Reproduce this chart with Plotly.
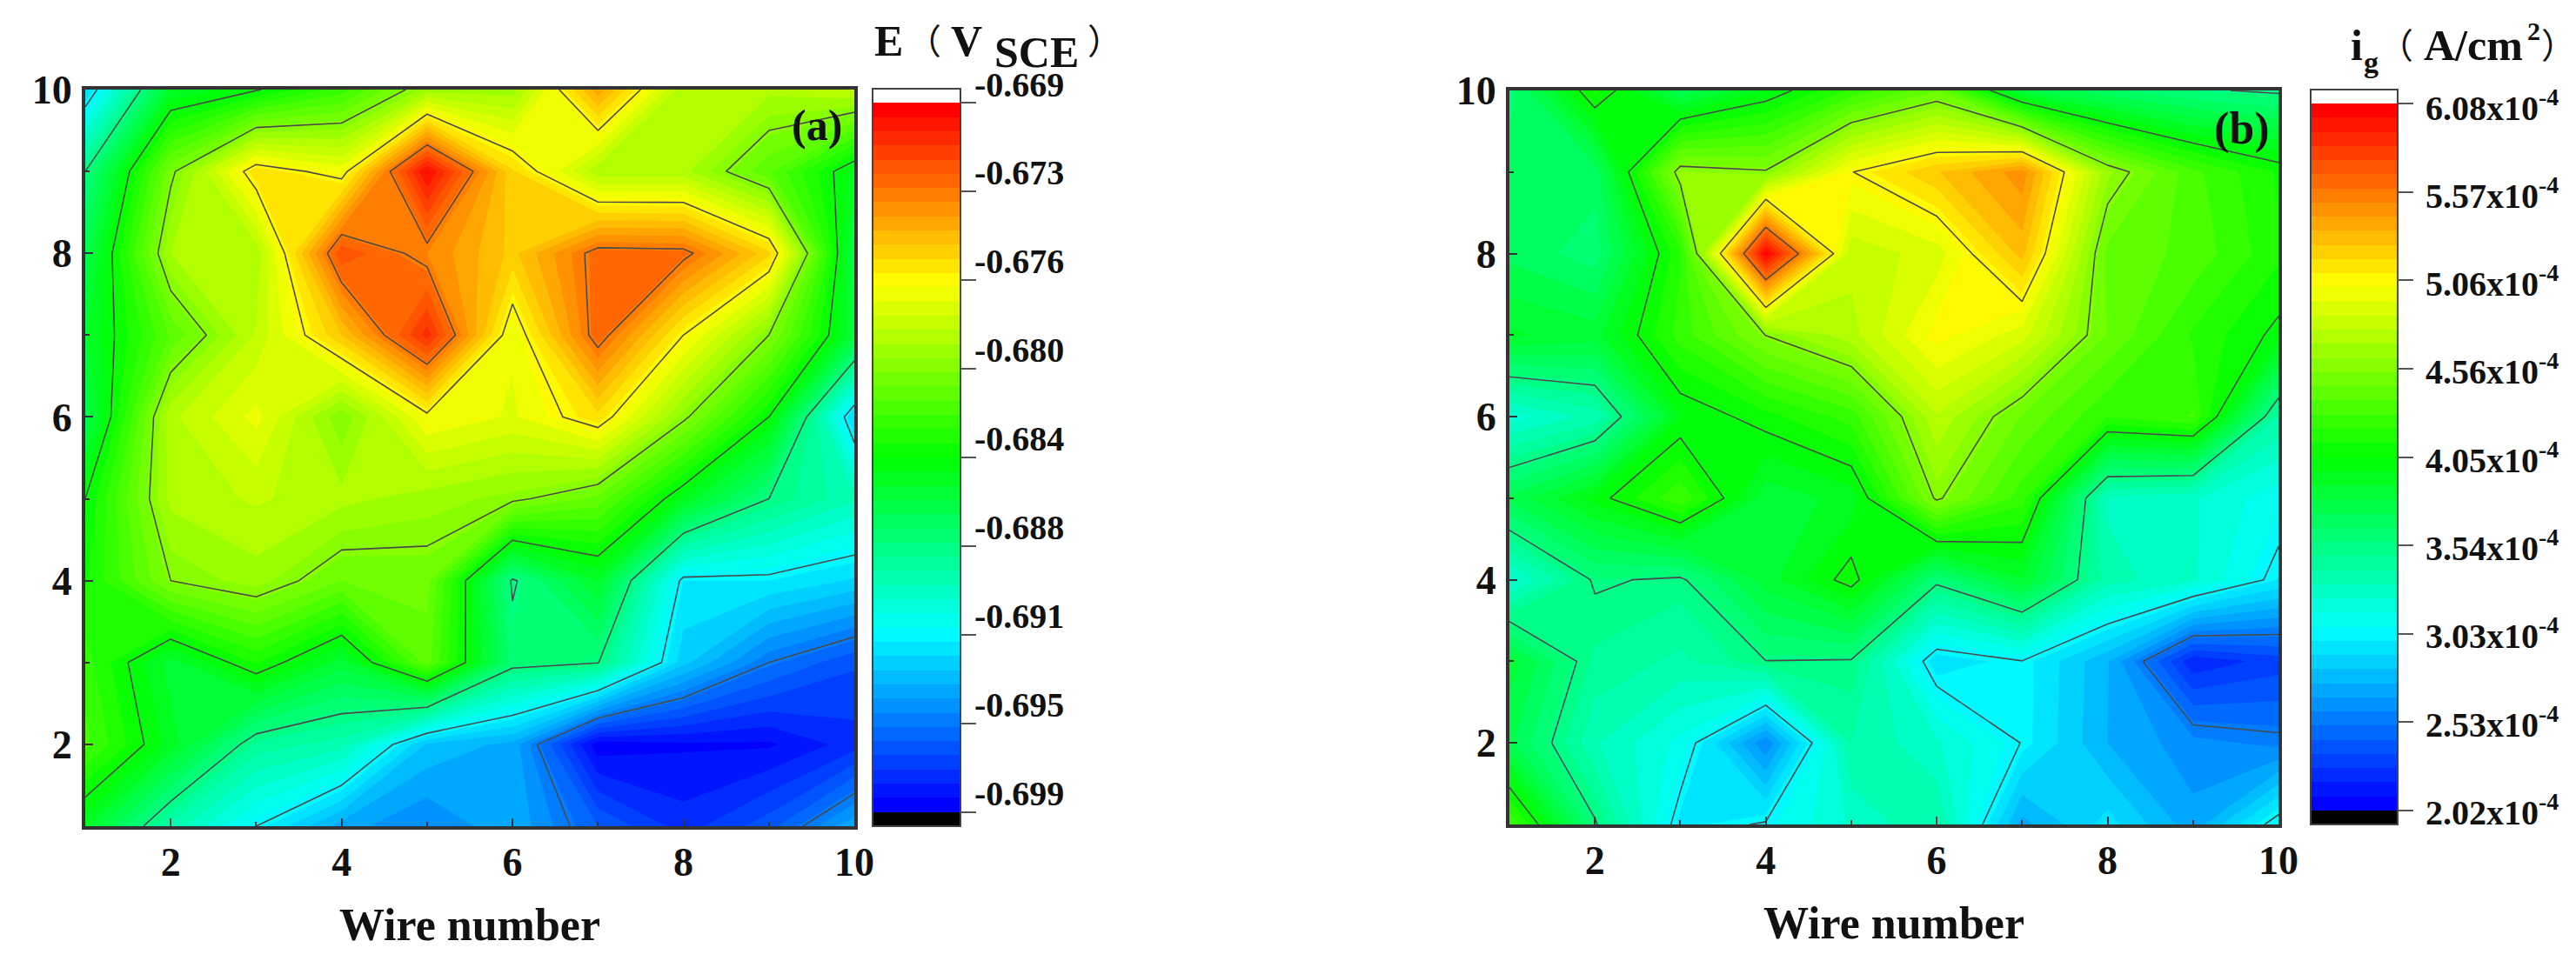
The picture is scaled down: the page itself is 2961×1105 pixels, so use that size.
import plotly.graph_objects as go

WIRES = [1, 2, 3, 4, 5, 6, 7, 8, 9, 10]

# Panel (a): E (V_SCE), one row per y value, x = 1..10
E_y1  = [-0.6851, -0.6890, -0.6915, -0.6939, -0.6948, -0.6937, -0.6960, -0.6975, -0.69625, -0.69375]
E_y2  = [-0.6820, -0.6849, -0.6884, -0.6891, -0.6931, -0.6938, -0.6988, -0.6985, -0.6985, -0.6975]
E_y3  = [-0.6825, -0.6855, -0.6833, -0.6855, -0.6813, -0.6873, -0.6877, -0.6928, -0.69525, -0.6965]
E_y4  = [-0.6835, -0.68025, -0.6795, -0.6810, -0.6808, -0.6879, -0.6852, -0.6918, -0.6918, -0.6925]
E_y5  = [-0.6840, -0.6790, -0.6785, -0.6790, -0.6795, -0.6800, -0.6812, -0.6848, -0.68775, -0.6893]
E_y6  = [-0.68625, -0.67875, -0.6772, -0.68025, -0.6768, -0.6775, -0.6758, -0.6800, -0.6840, -0.6925]
E_y7  = [-0.6853, -0.6815, -0.6785, -0.6750, -0.6705, -0.6773, -0.6722, -0.6765, -0.68025, -0.6856]
E_y8  = [-0.6862, -0.6792, -0.6790, -0.6715, -0.6732, -0.6752, -0.6723, -0.6724, -0.6754, -0.6861]
E_y9  = [-0.68775, -0.6805, -0.6758, -0.6770, -0.6695, -0.6755, -0.6790, -0.6790, -0.6815, -0.6848]
E_y10 = [-0.6925, -0.6852, -0.6841, -0.6825, -0.6795, -0.6795, -0.6740, -0.6790, -0.6790, -0.6785]
E_Z = [E_y1, E_y2, E_y3, E_y4, E_y5, E_y6, E_y7, E_y8, E_y9, E_y10]

# Panel (b): i_g (x10^-4 A/cm2)
I_y1  = [4.30, 3.56, 2.97, 3.05, 3.25, 3.40, 2.72, 2.95, 2.70, 3.10]
I_y2  = [3.75, 3.33, 3.13, 2.60, 3.40, 3.25, 3.03, 2.75, 2.62, 2.56]
I_y3  = [3.85, 3.46, 3.38, 3.54, 3.53, 2.94, 3.03, 2.76, 2.20, 2.30]
I_y4  = [3.22, 3.56, 3.52, 3.85, 4.10, 3.58, 3.88, 3.36, 3.25, 2.99]
I_y5  = [3.75, 4.00, 4.28, 3.83, 3.92, 4.58, 4.25, 3.30, 3.25, 3.10]
I_y6  = [3.20, 3.35, 3.97, 4.10, 4.25, 4.77, 4.45, 4.22, 4.30, 3.40]
I_y7  = [3.90, 3.85, 4.25, 4.56, 4.75, 5.06, 4.90, 4.45, 4.20, 4.02]
I_y8  = [3.70, 3.60, 4.20, 6.05, 4.81, 4.90, 5.30, 4.43, 4.35, 4.15]
I_y9  = [3.70, 3.68, 4.62, 4.57, 5.06, 5.26, 5.48, 4.64, 4.32, 4.12]
I_y10 = [3.60, 4.15, 3.74, 3.97, 4.23, 4.45, 3.81, 3.66, 3.56, 3.52]
I_Z = [I_y1, I_y2, I_y3, I_y4, I_y5, I_y6, I_y7, I_y8, I_y9, I_y10]

E_TICKS = [-0.669, -0.67275, -0.6765, -0.68025, -0.684, -0.68775, -0.6915, -0.69525, -0.699]
E_LABELS = ["-0.669", "-0.673", "-0.676", "-0.680", "-0.684", "-0.688", "-0.691", "-0.695", "-0.699"]
I_TICKS = [6.08, 5.5725, 5.065, 4.5575, 4.05, 3.5425, 3.035, 2.5275, 2.02]
I_LABELS = [f"{s}x10<sup>-4</sup>" for s in
            ["6.08", "5.57", "5.06", "4.56", "4.05", "3.54", "3.03", "2.53", "2.02"]]

W, H = 2961, 1105
SERIF = "Liberation Serif"
INK = "#111111"
RAINBOW = ["#0000ff", "#00ffff", "#00ff00", "#ffff00", "#ff0000"]


def px_x(p):
    return p / W


def px_y(p):
    return 1 - p / H


def scale(vmin, vmax, lo, hi):
    """Colour scale: black below vmin level, rainbow between, white above."""
    span = hi - lo
    a = (vmin - lo) / span
    b = (vmax - lo) / span
    stops = [[0, "#000000"], [a - 1e-6, "#000000"]]
    for k, c in enumerate(RAINBOW):
        stops.append([a + (b - a) * k / 4, c])
    stops += [[b + 1e-6, "#ffffff"], [1, "#ffffff"]]
    return stops


fig = go.Figure()


def panel(Z, vmin, vmax, step_n, ticks, ax, x0, x1, y0, y1, cx0, cw, cy0, cy1, ylo, yhi):
    size = (vmax - vmin) / step_n
    xname = "x" if ax == 1 else "x2"
    yname = "y" if ax == 1 else "y2"
    fig.add_trace(go.Contour(
        x=WIRES, y=WIRES, z=Z, xaxis=xname, yaxis=yname,
        autocontour=False,
        contours=dict(start=vmin, end=vmax, size=size, coloring="fill", showlines=False),
        line=dict(width=0, smoothing=0),
        zauto=False, zmin=ylo, zmax=yhi,
        colorscale=scale(vmin, vmax, ylo, yhi),
        hoverinfo="skip",
        colorbar=dict(
            x=px_x(cx0), xanchor="left", xpad=0, ypad=0,
            y=px_y(cy0), yanchor="top", len=(cy1 - cy0) / H, lenmode="fraction",
            thickness=cw, thicknessmode="pixels",
            outlinewidth=2, outlinecolor="#444444",
            tickmode="array", tickvals=ticks, showticklabels=False,
            ticks="outside", ticklen=17, tickwidth=2, tickcolor="#555555",
        ),
    ))
    fig.add_trace(go.Contour(
        x=WIRES, y=WIRES, z=Z, xaxis=xname, yaxis=yname,
        autocontour=False,
        contours=dict(start=vmin, end=vmax, size=size * step_n / 8, coloring="none"),
        line=dict(width=1.6, color="#4a4a4a", smoothing=0),
        showscale=False, hoverinfo="skip",
    ))
    common = dict(
        range=[1, 10], tickmode="linear", tick0=2, dtick=2,
        ticks="inside", ticklen=9, tickwidth=2, tickcolor="#333333",
        minor=dict(dtick=1, tick0=1, ticks="inside", ticklen=5, tickwidth=2, tickcolor="#333333"),
        showline=True, linewidth=4, linecolor="#333333", mirror=True,
        showgrid=False, zeroline=False,
        tickfont=dict(family=SERIF, size=46, color=INK, weight="bold"),
    )
    xkey = "xaxis" if ax == 1 else "xaxis2"
    ykey = "yaxis" if ax == 1 else "yaxis2"
    fig.update_layout({
        xkey: dict(common, domain=[px_x(x0), px_x(x1)], anchor=yname, ticklabelstandoff=-2,
                   title=dict(text="Wire number", standoff=29,
                              font=dict(family=SERIF, size=52, color=INK, weight="bold"))),
        ykey: dict(common, domain=[px_y(y1), px_y(y0)], anchor=xname, ticklabelstandoff=2),
    })


panel(E_Z, -0.699, -0.669, 50, E_TICKS, 1, 98, 982, 103, 950, 1003, 101, 102, 950, -0.6996, -0.6684)
panel(I_Z, 2.02, 6.08, 50, I_TICKS, 2, 1735, 2619, 104, 948, 2656, 100, 103, 948, 1.94, 6.16)


def note(text, px, py, size=48, family=SERIF, weight="bold", anchor="left"):
    fig.add_annotation(
        xref="paper", yref="paper", x=px_x(px), y=px_y(py), xanchor=anchor, yanchor="middle",
        text=text, showarrow=False, borderpad=0, borderwidth=0,
        font=dict(family=family, size=size, color=INK, weight=weight),
    )


CJK = "Noto Sans CJK SC"
note("(a)", 910, 144, size=50)
note("(b)", 2545, 148, size=52)
note("E", 1005, 47, size=50)
note("（", 1042, 45, family=CJK, weight="normal", size=40)
note("V", 1093, 47, size=50)
note("SCE", 1143, 60, size=50)
note("）", 1250, 45, family=CJK, weight="normal", size=40)
note("i", 2702, 52, size=50)
note("g", 2717, 72, size=34)
note("（", 2734, 50, family=CJK, weight="normal", size=40)
note("A/cm", 2786, 52, size=50)
note("2", 2905, 36, size=30)
note("）", 2921, 50, family=CJK, weight="normal", size=40)

for k, label in enumerate(E_LABELS):
    note(label, 1120, 118 + 101.9 * k - 21, size=40)
for k, label in enumerate(I_LABELS):
    note(label, 2788, 120 + 101.3 * k + 1, size=40)

fig.update_layout(
    width=W, height=H, margin=dict(l=0, r=0, t=0, b=0, autoexpand=False),
    paper_bgcolor="#ffffff", plot_bgcolor="#ffffff", showlegend=False,
)
fig.write_html("out.html", config={"displayModeBar": False},
               post_script="document.body.style.margin='0';")
